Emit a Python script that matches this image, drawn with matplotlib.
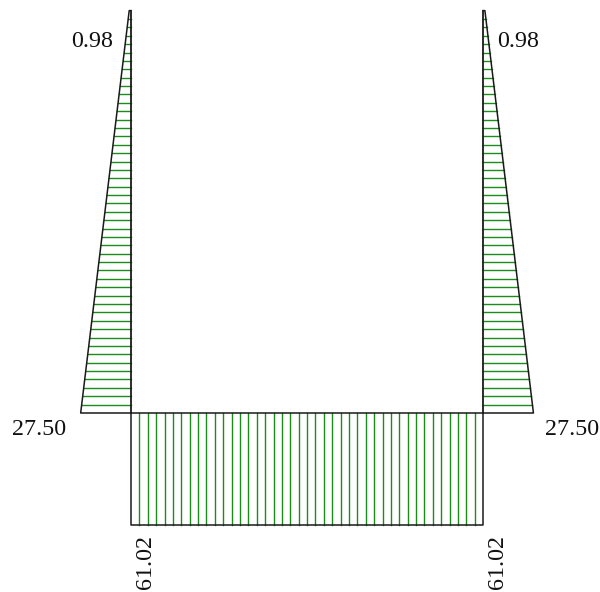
import numpy as np
import matplotlib
matplotlib.use('Agg')
import matplotlib.pyplot as plt

# ################ frame geometry (m) and moments (kNm)
span = 3.5
height = 4.0
col_moment_top = 0.98
col_moment_bot = 27.50
beam_moment = 61.02
col_labels = ['0.98', '27.50']
beam_label = '61.02'

n_col_hatch = 48
n_beam_hatch = 42

# ################ drawing scales
s = 100.6            # px per m
k = 1.83 / s         # m of drawing per kNm
W, H = 600, 592
x0_px, y0_px = 131, H - 413

fig = plt.figure(figsize=(W / 100, H / 100), dpi=100)
ax = fig.add_axes([0, 0, 1, 1])
ax.set_xlim(-x0_px / s, (W - x0_px) / s)
ax.set_ylim(-y0_px / s, (H - y0_px) / s)
ax.axis('off')

green = '#1a8c1a'
edge = '#1a1a1a'
txt = '#111111'
font = dict(family='Liberation Serif', size=17.3, color=txt)


def m_col(y):
    # linear moment along the column, bottom -> top
    return col_moment_bot + (col_moment_top - col_moment_bot) * y / height


# ################ columns (left draws to the left, right to the right)
for xc, sign in [(0.0, -1), (span, 1)]:
    ys = np.linspace(0, height, n_col_hatch + 1)
    for y in ys[1:-1]:
        ax.plot([xc, xc + sign * m_col(y) * k], [y, y], color=green, lw=1.0)
    px = [xc, xc + sign * col_moment_bot * k, xc + sign * col_moment_top * k, xc]
    py = [0, 0, height, height]
    ax.plot(px, py, color=edge, lw=1.1)
    ax.plot([xc, xc], [0, height], color=edge, lw=1.3)

# ################ beam
d = -beam_moment * k
xs = np.linspace(0, span, n_beam_hatch + 1)
for x in xs[1:-1]:
    ax.plot([x, x], [0, d], color=green, lw=1.0)
ax.plot([0, span, span, 0, 0], [0, 0, d, d, 0], color=edge, lw=1.1)

# ################ labels
ax.annotate(col_labels[0], (-col_moment_top * k, height), xytext=(-16, -36),
            textcoords='offset pixels', ha='right', va='baseline', **font)
ax.annotate(col_labels[0], (span + col_moment_top * k, height), xytext=(12, -36),
            textcoords='offset pixels', ha='left', va='baseline', **font)
ax.annotate(col_labels[1], (-col_moment_bot * k, 0), xytext=(-15, -22),
            textcoords='offset pixels', ha='right', va='baseline', **font)
ax.annotate(col_labels[1], (span + col_moment_bot * k, 0), xytext=(12, -22),
            textcoords='offset pixels', ha='left', va='baseline', **font)
ax.annotate(beam_label, (0, d), xytext=(14, -10), textcoords='offset pixels',
            ha='center', va='top', rotation=90, **font)
ax.annotate(beam_label, (span, d), xytext=(14, -10), textcoords='offset pixels',
            ha='center', va='top', rotation=90, **font)

fig.savefig('out.png', dpi=100, facecolor='white')
